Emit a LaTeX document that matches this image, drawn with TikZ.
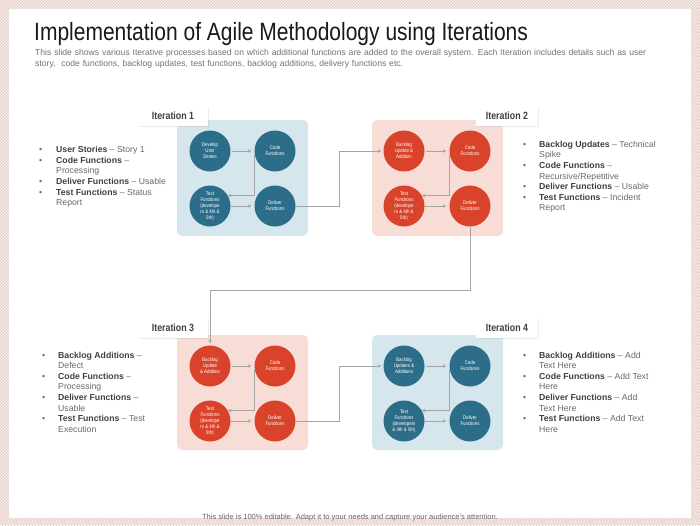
\documentclass[tikz,border=0pt]{standalone}
\usepackage{fontspec}
\setmainfont{Liberation Sans}
\newfontfamily\narrowfont[FakeStretch=0.84]{Liberation Sans}
\usetikzlibrary{arrows.meta,patterns,shadows}
\definecolor{hatchbg}{HTML}{F5EAE7}
\definecolor{hatchln}{HTML}{E2C6BF}
\definecolor{cblue}{HTML}{2C6E8A}
\definecolor{cred}{HTML}{D9432B}
\definecolor{pblue}{HTML}{D6E6ED}
\definecolor{pred}{HTML}{F8DDD6}
\definecolor{conn}{HTML}{A5A5A5}
\definecolor{tdark}{HTML}{404040}
\definecolor{tgray}{HTML}{6A6A6A}
\newcommand{\bb}[1]{\textbf{\color{tdark}#1}}
\tikzset{
  circ/.style={circle, minimum size=41pt, inner sep=0pt, text=white, align=center,
    font=\narrowfont\fontsize{5.2}{6}\selectfont},
  bluec/.style={circ, fill=cblue},
  redc/.style={circ, fill=cred},
  panel/.style={rounded corners=5pt},
  lbl/.style={fill=white, draw=none, minimum height=20pt, inner sep=0pt,
    font=\narrowfont\bfseries\fontsize{10.5}{12}\selectfont, text=tdark,
    drop shadow={opacity=0.15, shadow xshift=1pt, shadow yshift=-1pt}},
  cn/.style={draw=conn, line width=0.7pt, -{Stealth[length=3.5pt,width=3.5pt]}},
  lst/.style={anchor=west, inner sep=0pt, text=tgray, font=\fontsize{8.7}{10.6}\selectfont}
}
\begin{document}
\begin{tikzpicture}[x=1pt,y=-1pt]
\useasboundingbox (0,0) rectangle (700,525);
% background frame
\fill[hatchbg] (0,0) rectangle (700,525);
\fill[pattern=north east lines, pattern color=hatchln] (0,0) rectangle (700,525);
\fill[white] (9,9) rectangle (691,518);
% title
\node[anchor=base west, inner sep=0pt, font=\narrowfont\fontsize{25}{28}\selectfont, text=black!90] (title) at (34,40) {Implementation of Agile Methodology using Iterations};
\node[anchor=north west, inner sep=0pt, text width=650pt, align=left, text=black!55, font=\fontsize{8.6}{11}\selectfont] (sub) at (35,49)
 {This slide shows various Iterative processes based on which additional functions are added to the overall system. Each Iteration includes details such as user\\ story,\ \ code functions, backlog updates, test functions, backlog additions, delivery functions etc.};
% panels
\fill[panel, pblue] (177,120) rectangle (308,236);
\fill[panel, pred] (372,120) rectangle (503,236);
\fill[panel, pred] (177,335) rectangle (308,450);
\fill[panel, pblue] (372,335) rectangle (503,450);
% labels
\node[lbl, minimum width=70pt] (l1) at (173,116) {Iteration 1};
\node[lbl, minimum width=62pt] (l2) at (507,116) {Iteration 2};
\node[lbl, minimum width=70pt] (l3) at (173,328) {Iteration 3};
\node[lbl, minimum width=62pt] (l4) at (507,328) {Iteration 4};
% iteration 1
\node[bluec] (a1) at (210,151) {Develop\\User\\Stories};
\node[bluec] (b1) at (275,151) {Code\\Functions};
\node[bluec] (c1) at (210,206) {Test\\Functions\\(develope\\rs \& 4th \&\\5th)};
\node[bluec] (d1) at (275,206) {Deliver\\Functions};
% iteration 2
\node[redc] (a2) at (404,151) {Backlog\\Update \&\\Addition};
\node[redc] (b2) at (470,151) {Code\\Functions};
\node[redc] (c2) at (404,206) {Test\\Functions\\(develope\\rs \& 4th \&\\5th)};
\node[redc] (d2) at (470,206) {Deliver\\Functions};
% iteration 3
\node[redc] (a3) at (210,366) {Backlog\\Update\\\& Addition};
\node[redc] (b3) at (275,366) {Code\\Functions};
\node[redc] (c3) at (210,421) {Test\\Functions\\(develope\\rs \& 4th \&\\5th)};
\node[redc] (d3) at (275,421) {Deliver\\Functions};
% iteration 4
\node[bluec] (a4) at (404,366) {Backlog\\Updates \&\\Additions};
\node[bluec] (b4) at (470,366) {Code\\Functions};
\node[bluec] (c4) at (404,421) {Test\\Functions\\(developers\\\& 4th \& 5th)};
\node[bluec] (d4) at (470,421) {Deliver\\Functions};
% inner connectors
\foreach \i in {1,2,3,4}{
  \draw[cn, shorten <=1pt, shorten >=3pt] (a\i.east) -- (b\i.west);
  \draw[cn, shorten >=3pt] (c\i.east) -- (d\i.west);
  \draw[cn] (b\i.190) |- (c\i.30);
}
% between iterations
\draw[cn, shorten >=2pt] (d1.east) -- ++(44,0) |- (a2.west);
\draw[cn, shorten >=2pt] (d2.south) -- ++(0,64) -| (a3.north);
\draw[cn, shorten >=2pt] (d3.east) -- ++(44,0) |- (a4.west);
% lists
\node[lst] (t1) at (39,177) {\begin{tabular}{@{}p{17pt}@{}l@{}}
\textbullet & \bb{User Stories} -- Story 1\\
\textbullet & \bb{Code Functions} --\\
 & Processing\\
\textbullet & \bb{Deliver Functions} -- Usable\\
\textbullet & \bb{Test Functions} -- Status\\
 & Report
\end{tabular}};
\node[lst] (t2) at (523,177) {\begin{tabular}{@{}p{16pt}@{}l@{}}
\textbullet & \bb{Backlog Updates} -- Technical\\
 & Spike\\
\textbullet & \bb{Code Functions} --\\
 & Recursive/Repetitive\\
\textbullet & \bb{Deliver Functions} -- Usable\\
\textbullet & \bb{Test Functions} -- Incident\\
 & Report
\end{tabular}};
\node[lst] (t3) at (42,393) {\begin{tabular}{@{}p{16pt}@{}l@{}}
\textbullet & \bb{Backlog Additions} --\\
 & Defect\\
\textbullet & \bb{Code Functions} --\\
 & Processing\\
\textbullet & \bb{Deliver Functions} --\\
 & Usable\\
\textbullet & \bb{Test Functions} -- Test\\
 & Execution
\end{tabular}};
\node[lst] (t4) at (523,393) {\begin{tabular}{@{}p{16pt}@{}l@{}}
\textbullet & \bb{Backlog Additions} -- Add\\
 & Text Here\\
\textbullet & \bb{Code Functions} -- Add Text\\
 & Here\\
\textbullet & \bb{Deliver Functions} -- Add\\
 & Text Here\\
\textbullet & \bb{Test Functions} -- Add Text\\
 & Here
\end{tabular}};
% footer
\node[anchor=base, inner sep=0pt, text=black!60, font=\fontsize{7.5}{9}\selectfont] (foot) at (350,519) {This slide is 100\% editable. Adapt it to your needs and capture your audience's attention.};
\end{tikzpicture}
\end{document}
